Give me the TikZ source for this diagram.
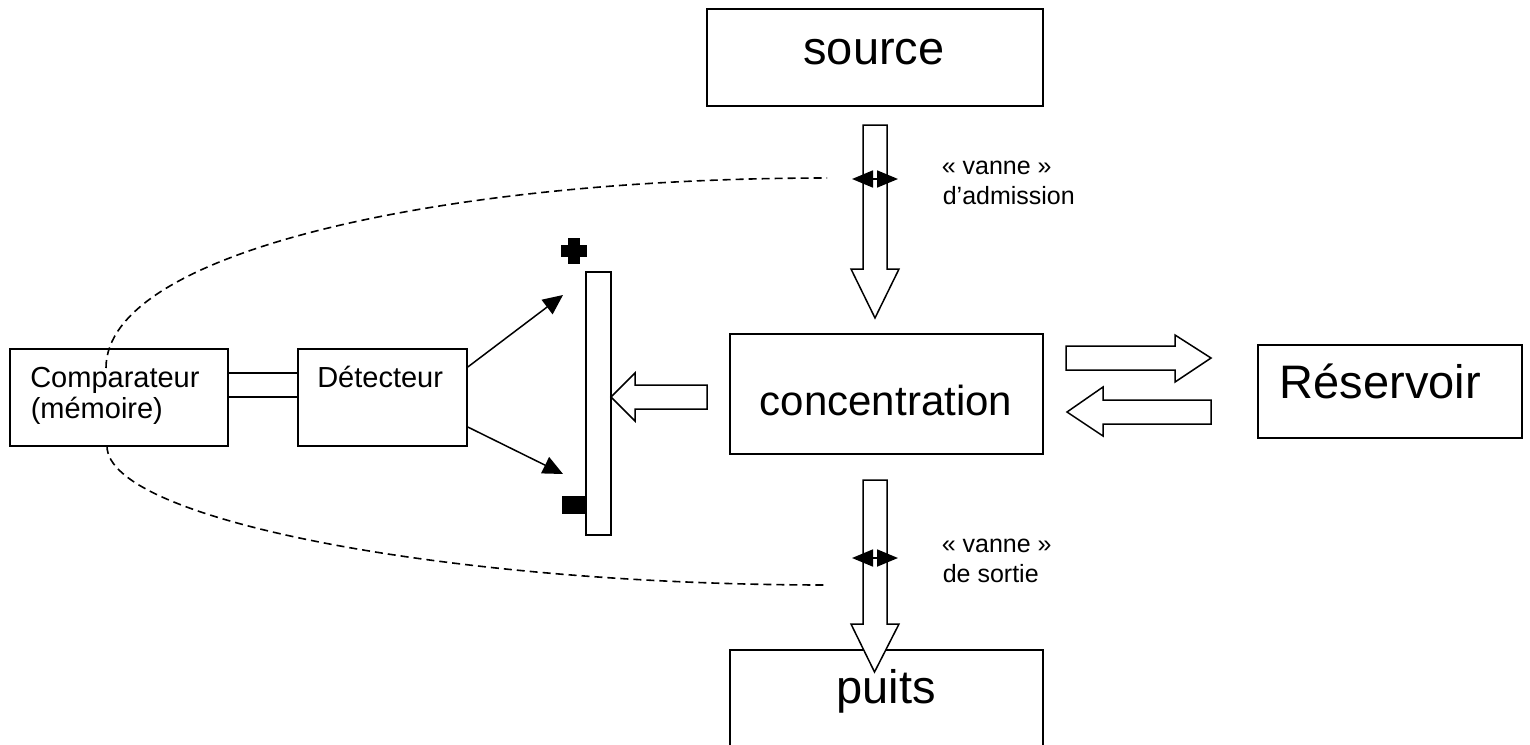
\documentclass[tikz,border=0pt]{standalone}
\usepackage{fontspec}
\setmainfont{Liberation Sans}
\usetikzlibrary{arrows.meta}
\begin{document}
\begin{tikzpicture}[x=1pt,y=-1pt,line width=1.6pt,
  box/.style={draw,fill=white,rectangle,inner sep=0pt},
  blk/.style={draw,fill=white,line join=miter,line width=1.5pt},
  big/.style={inner sep=0pt,font=\fontsize{47pt}{52pt}\selectfont},
  mid/.style={inner sep=0pt,font=\fontsize{29pt}{33pt}\selectfont},
  small/.style={inner sep=0pt,font=\fontsize{25pt}{30pt}\selectfont},
  ray/.style={line width=1.5pt,-{Triangle[length=20pt,width=18pt]}},
  valve/.style={line width=1.8pt,{Triangle[length=21pt,width=17pt]}-{Triangle[length=21pt,width=17pt]}},
  ctrl/.style={line width=1.6pt,dash pattern=on 8pt off 5pt}]
\useasboundingbox (0,0) rectangle (1530,744);

% boxes
\node[box,minimum width=336pt,minimum height=97pt] (source) at (875,57.5) {};
\node[box,minimum width=313pt,minimum height=120pt] (conc) at (886.5,394) {};
\node[box,minimum width=264pt,minimum height=93pt] (res) at (1390,391.5) {};
\node[box,minimum width=313pt,minimum height=98pt] (puits) at (886.5,699) {};
\node[box,minimum width=218pt,minimum height=97pt] (comp) at (119,397.5) {};
\node[box,minimum width=169pt,minimum height=97pt] (det) at (382.5,397.5) {};
\node[box,minimum width=25pt,minimum height=263pt] (bar) at (598.5,403.5) {};

% texts
\node[big,anchor=base] (tsource) at (874,64) {source};
\node[big,anchor=base,font=\fontsize{42pt}{46pt}\selectfont] (tconc) at (886,415) {concentration};
\node[big,anchor=base west] (tres) at (1279,398) {Réservoir};
\node[big,anchor=base] (tpuits) at (886,703) {puits};
\node[mid,anchor=base west] (tcomp1) at (29.5,387) {Comparateur};
\node[mid,anchor=base west] (tcomp2) at (30,418) {(mémoire)};
\node[mid,anchor=base west] (tdet) at (316.5,387) {Détecteur};
\node[small,anchor=base west] (tv1a) at (941,174) {« vanne »};
\node[small,anchor=base west] (tv1b) at (942,204) {d’admission};
\node[small,anchor=base west] (tv2a) at (941,552) {« vanne »};
\node[small,anchor=base west] (tv2b) at (942,582) {de sortie};

% comparator - detector link
\draw[line width=1.6pt] ([yshift=24.5pt]comp.east) -- ([yshift=24.5pt]det.west);
\draw[line width=1.6pt] ([yshift=0.5pt]comp.east) -- ([yshift=0.5pt]det.west);

% detector rays
\coordinate (rp) at (563,295);
\coordinate (rm) at (563,474);
\draw[ray] ([yshift=30.5pt]det.east) -- (rp);
\draw[ray] ([yshift=-29.5pt]det.east) -- (rm);

% plus and minus marks
\fill (574,251) +(-13,-6) rectangle +(13,6);
\fill (574,251) +(-6,-13) rectangle +(6,13);
\fill (bar.south west) ++(-23,-22) rectangle ++(23,-18);

% block arrows
\draw[blk] (863,125) -- (887,125) -- (887,269) -- (899,269) -- (875,318) -- (851,269) -- (863,269) -- cycle;
\draw[blk] (863,480) -- (887,480) -- (887,624) -- (899,624) -- (874.5,672) -- (851,624) -- (863,624) -- cycle;
\draw[blk] (707,385) -- (635,385) -- (635,373) -- (611,397) -- (635,421) -- (635,409) -- (707,409) -- cycle;
\draw[blk] (1066,346) -- (1175,346) -- (1175,335) -- (1211,358) -- (1175,382) -- (1175,370) -- (1066,370) -- cycle;
\draw[blk] (1211,400) -- (1103,400) -- (1103,387) -- (1067,412) -- (1103,436) -- (1103,424) -- (1211,424) -- cycle;

% valves
\coordinate (va1) at (852,179);
\coordinate (vb1) at (898,179);
\coordinate (va2) at (852,558);
\coordinate (vb2) at (898,558);
\draw[valve] (va1) -- (vb1);
\draw[valve] (va2) -- (vb2);

% control (dashed) links
\coordinate (cu) at (106,368);
\coordinate (cl) at (107,446);
\coordinate (eu) at (827,178);
\coordinate (el) at (827,585);
\draw[ctrl] (cu) .. controls (106,250) and (450,178) .. (eu);
\draw[ctrl] (cl) .. controls (107,520) and (450,585) .. (el);
\end{tikzpicture}
\end{document}
